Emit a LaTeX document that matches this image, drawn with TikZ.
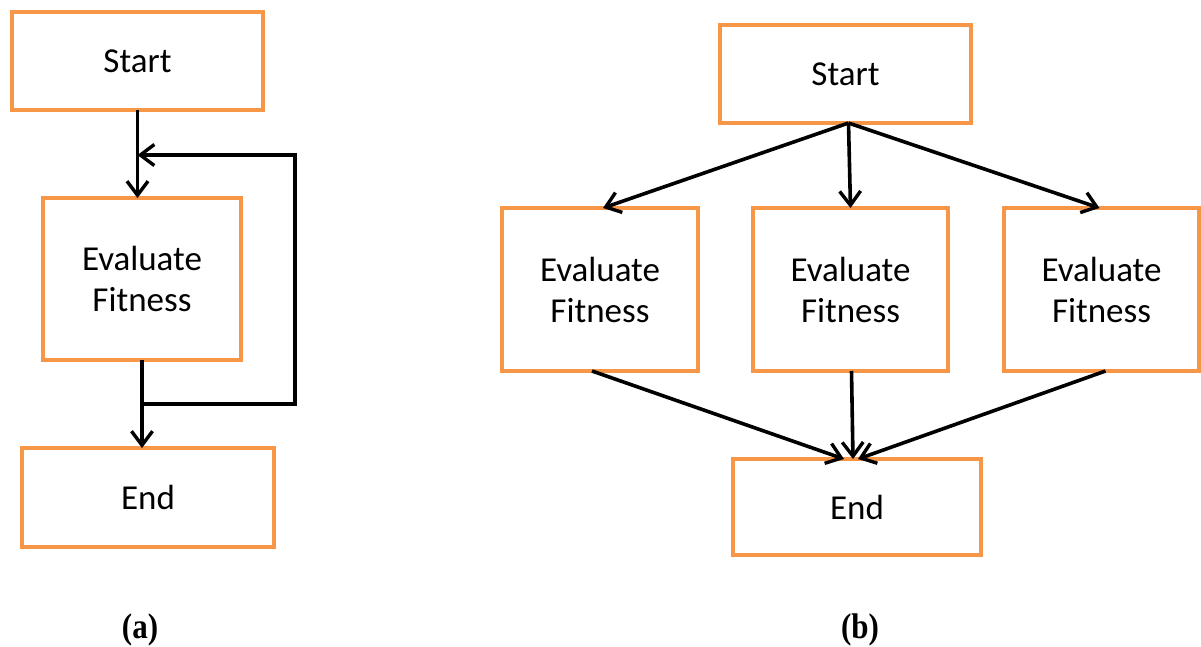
\documentclass[tikz,border=0pt]{standalone}
\usepackage{fontspec}
\setmainfont{Carlito}
\newfontfamily\capfont{Liberation Serif}
\usetikzlibrary{arrows.meta,calc}
\definecolor{boxorange}{HTML}{F79646}
\begin{document}
\begin{tikzpicture}[x=1pt,y=-1pt,
  box/.style={draw=boxorange,line width=3.5pt,fill=white,rectangle,inner sep=0pt,outer sep=0pt,
    align=center,font=\fontsize{35}{41}\selectfont},
  arr/.style={draw=black,line width=3.6pt,-{Straight Barb[length=14pt,width=21pt,line width=3.4pt]}},
  caplabel/.style={font=\capfont\fontsize{31}{36}\selectfont\bfseries,yscale=1.15}]
\useasboundingbox (0,0) rectangle (1201,646);

% (a) sequential evaluation loop
\node[box,minimum width=251pt,minimum height=98pt] (startA) at (137.5,61) {Start};
\node[box,minimum width=198pt,minimum height=162pt] (evalA) at (142,279) {Evaluate\\Fitness};
\node[box,minimum width=252pt,minimum height=99pt] (endA) at (148,497.5) {End};
\coordinate (jn) at (143,404);
\coordinate (loopTop) at (295,155);
\draw[arr] (startA.south) -- (startA.south |- evalA.north);
\draw[arr] (evalA.south) -- (evalA.south |- endA.north);
\draw[arr] (jn) -| (loopTop) -- (loopTop -| startA.south);

% (b) parallel evaluation
\node[box,minimum width=251pt,minimum height=98pt] (startB) at (845.5,74) {Start};
\node[box,minimum width=196pt,minimum height=163pt] (evalB1) at (600,289.5) {Evaluate\\Fitness};
\node[box,minimum width=195pt,minimum height=163pt] (evalB2) at (850.5,289.5) {Evaluate\\Fitness};
\node[box,minimum width=195pt,minimum height=163pt] (evalB3) at (1101.5,289.5) {Evaluate\\Fitness};
\node[box,minimum width=248pt,minimum height=96pt] (endB) at (857,507) {End};
\coordinate (fork) at ($(startB.south)+(3,0)$);
\draw[arr] (fork) -- ($(evalB1.north)+(3,0)$);
\draw[arr] (fork) -- (evalB2.north);
\draw[arr] (fork) -- ($(evalB3.north)+(-2,0)$);
\draw[arr] ($(evalB1.south)+(-8,0)$) -- ($(endB.north)+(-13,0)$);
\draw[arr] ($(evalB2.south)+(1,0)$) -- ($(endB.north)+(-4,0)$);
\draw[arr] ($(evalB3.south)+(4,0)$) -- ($(endB.north)+(1,0)$);

% captions
\node[caplabel] (capA) at (140,630) {(a)};
\node[caplabel] (capB) at (860,630) {(b)};
\end{tikzpicture}
\end{document}
